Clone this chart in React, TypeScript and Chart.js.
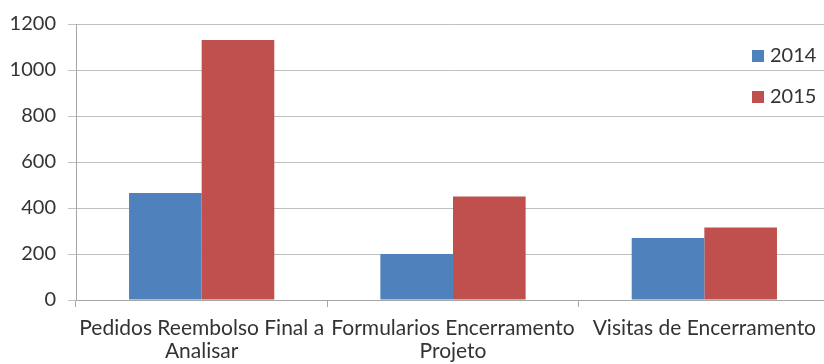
import React, { useEffect, useRef } from "react";
import { Chart, registerables } from "chart.js";

Chart.register(...registerables);

const categories: string[][] = [
  ["Pedidos Reembolso Final a", "Analisar"],
  ["Formularios Encerramento", "Projeto"],
  ["Visitas de Encerramento"],
];
const values2014 = [465, 200, 270];
const values2015 = [1130, 450, 315];
const seriesLabels = ["2014", "2015"];
const seriesColors = ["#4f81bd", "#c0504d"];
const yTicks = [0, 200, 400, 600, 800, 1000, 1200];

const FONT = "Lato, 'Open Sans', sans-serif";

const legendPlugin = {
  id: "insideLegend",
  afterDraw(chart: any) {
    const ctx = chart.ctx;
    ctx.save();
    chart.data.datasets.forEach((ds: any, i: number) => {
      const x = 752;
      const y = 50 + i * 41;
      ctx.fillStyle = ds.backgroundColor;
      ctx.fillRect(x, y, 12, 12);
      ctx.fillStyle = "#333";
      ctx.font = `20px ${FONT}`;
      ctx.textBaseline = "middle";
      ctx.textAlign = "left";
      ctx.fillText(ds.label, x + 18, y + 6);
    });
    ctx.restore();
  },
};

export default function App() {
  const ref = useRef<HTMLCanvasElement | null>(null);
  useEffect(() => {
    if (!ref.current) return;
    const chart = new Chart(ref.current, {
      type: "bar",
      data: {
        labels: categories,
        datasets: [
          { label: seriesLabels[0], data: values2014, backgroundColor: seriesColors[0] },
          { label: seriesLabels[1], data: values2015, backgroundColor: seriesColors[1] },
        ],
      },
      options: {
        responsive: false,
        animation: false,
        layout: { padding: { top: 20, right: 2, left: 0, bottom: 0 } },
        datasets: { bar: { categoryPercentage: 0.578, barPercentage: 1 } },
        plugins: { legend: { display: false }, tooltip: { enabled: false } },
        scales: {
          x: {
            offset: true,
            grid: { display: true, drawOnChartArea: false, drawTicks: true, tickLength: 7, color: "#a6a6a6" },
            border: { color: "#a6a6a6" },
            ticks: { color: "#333", font: { family: FONT, size: 21, lineHeight: 1.1 }, padding: 10, maxRotation: 0, autoSkip: false },
            afterFit(scale: any) {
              scale.height = 64;
            },
          },
          y: {
            min: 0,
            max: 1200,
            afterBuildTicks(scale: any) {
              scale.ticks = yTicks.map((v) => ({ value: v }));
            },
            grid: { color: "#bfbfbf", tickLength: 8 },
            border: { color: "#a6a6a6" },
            ticks: {
              color: "#333",
              font: { family: FONT, size: 20 },
              padding: 12,
              callback: (v: any) => String(v),
            },
            afterFit(scale: any) {
              scale.width = 76;
            },
          },
        },
      },
      plugins: [legendPlugin],
    });
    return () => chart.destroy();
  }, []);
  return (
    <div style={{ position: "fixed", left: 0, top: 0, width: 824, height: 364, overflow: "hidden", background: "#fff" }}>
      <canvas ref={ref} width={832} height={364} style={{ display: "block" }} />
    </div>
  );
}
